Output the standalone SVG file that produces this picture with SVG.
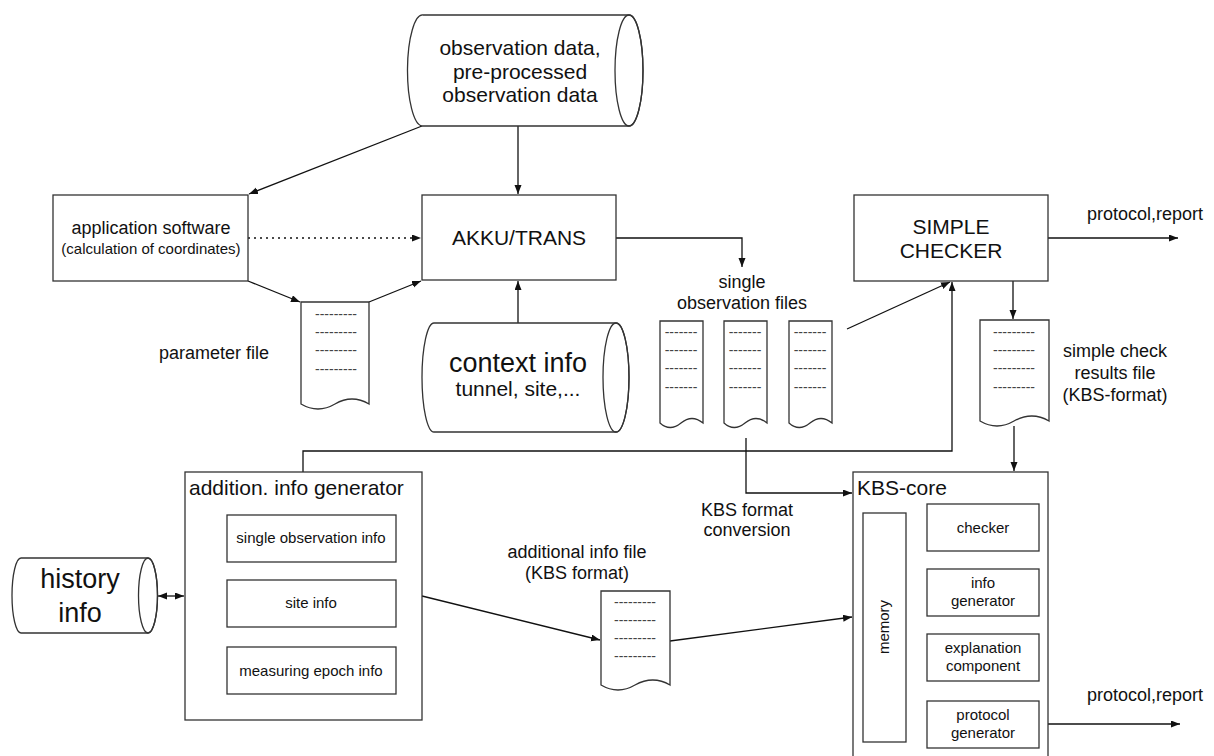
<svg xmlns="http://www.w3.org/2000/svg" width="1214" height="756" viewBox="0 0 1214 756">
<style>
  text { font-family: "Liberation Sans", Arial, sans-serif; fill: #111; }
  .box { fill: #fff; stroke: #333; stroke-width: 1.3; }
  .ln { fill: none; stroke: #111; stroke-width: 1.3; }
  .dash { font-size: 14px; fill: #444; text-anchor: middle; }
  .c { text-anchor: middle; }
  .s15 { font-size: 15px; }
  .s18 { font-size: 18px; }
  .s21 { font-size: 21px; }
  .s27 { font-size: 27px; }
</style>
<defs>
  <marker id="ah" markerUnits="userSpaceOnUse" markerWidth="10" markerHeight="8" refX="9" refY="3.5" orient="auto-start-reverse">
    <path d="M0,0 L9,3.5 L0,7 z" fill="#111"/>
  </marker>
</defs>
<rect width="1214" height="756" fill="#fff"/>

<g id="connectors">
  <path class="ln" d="M422,126 L249,194" marker-end="url(#ah)"/>
  <path class="ln" d="M518,126 L518,194" marker-end="url(#ah)"/>
  <path class="ln" d="M248,238 L421,238" stroke-dasharray="2 4" marker-end="url(#ah)"/>
  <path class="ln" d="M248,281 L300,302" marker-end="url(#ah)"/>
  <path class="ln" d="M369,302 L421,281" marker-end="url(#ah)"/>
  <path class="ln" d="M518,323 L518,281" marker-end="url(#ah)"/>
  <path class="ln" d="M616,238 L742,238 L742,267" marker-end="url(#ah)"/>
  <path class="ln" d="M847,329 L950,282" marker-end="url(#ah)"/>
  <path class="ln" d="M303,472 L303,451 L952,451 L952,282" marker-end="url(#ah)"/>
  <path class="ln" d="M1013,281 L1013,319" marker-end="url(#ah)"/>
  <path class="ln" d="M1014,426 L1014,471" marker-end="url(#ah)"/>
  <path class="ln" d="M746,438 L746,493 L852,493" marker-end="url(#ah)"/>
  <path class="ln" d="M1048,238 L1178,238" marker-end="url(#ah)"/>
  <path class="ln" d="M422,596 L600,640" marker-end="url(#ah)"/>
  <path class="ln" d="M670,641 L852,617" marker-end="url(#ah)"/>
  <path class="ln" d="M1039,724 L1180,724" marker-end="url(#ah)"/>
  <path class="ln" d="M906,528 L926,528" marker-start="url(#ah)" marker-end="url(#ah)"/>
  <path class="ln" d="M906,593 L926,593" marker-start="url(#ah)" marker-end="url(#ah)"/>
  <path class="ln" d="M906,657 L926,657" marker-start="url(#ah)" marker-end="url(#ah)"/>
  <path class="ln" d="M906,724 L926,724" marker-start="url(#ah)" marker-end="url(#ah)"/>
  <path class="ln" d="M158,596 L184,596" marker-start="url(#ah)" marker-end="url(#ah)"/>
</g>

<g id="observation-data">
  <path class="box" d="M423,15 L629,15 A14,55.5 0 0 1 629,126 L422,126 A15,55.5 0 0 1 423,15 Z"/>
  <ellipse cx="629" cy="70.5" rx="14" ry="55.5" fill="none" stroke="#333" stroke-width="1.3"/>
  <text class="c s21" x="520" y="55">observation data,</text>
  <text class="c s21" x="520" y="79">pre-processed</text>
  <text class="c s21" x="520" y="102">observation data</text>
</g>

<g id="application-software">
  <rect class="box" x="53" y="195" width="195" height="86"/>
  <text class="c s18" x="151" y="234">application software</text>
  <text class="c s15" x="151" y="254">(calculation of coordinates)</text>
</g>

<g id="akku-trans">
  <rect class="box" x="422" y="195" width="194" height="85"/>
  <text class="c s21" x="519" y="245">AKKU/TRANS</text>
</g>

<g id="parameter-file">
  <path class="box" d="M301,302 L369,302 L369,404 Q352,394 335,404 Q318,414 301,404 Z"/>
  <text class="dash" x="336" y="319">---------</text>
  <text class="dash" x="336" y="337">---------</text>
  <text class="dash" x="336" y="355">---------</text>
  <text class="dash" x="336" y="374">---------</text>
  <text class="c s18" x="214" y="359">parameter file</text>
</g>

<g id="context-info">
  <path class="box" d="M434,323 L616,323 A13,54.5 0 0 1 616,432 L434,432 A12,54.5 0 0 1 434,323 Z"/>
  <ellipse cx="616" cy="377.5" rx="13" ry="54.5" fill="none" stroke="#333" stroke-width="1.3"/>
  <text class="c s27" x="518" y="372">context info</text>
  <text class="c s21" x="518" y="396">tunnel, site,...</text>
</g>

<g id="single-observation-files">
  <text class="c s18" x="742" y="288">single</text>
  <text class="c s18" x="742" y="309">observation files</text>
  <path class="box" d="M660,321 L703,321 L703,423 Q692,414 681,423 Q670,432 660,423 Z"/>
  <path class="box" d="M724,321 L767,321 L767,423 Q756,414 745,423 Q734,432 724,423 Z"/>
  <path class="box" d="M789,321 L832,321 L832,423 Q821,414 810,423 Q799,432 789,423 Z"/>
  <text class="dash" x="681" y="337">-------</text>
  <text class="dash" x="681" y="355">-------</text>
  <text class="dash" x="681" y="373">-------</text>
  <text class="dash" x="681" y="392">-------</text>
  <text class="dash" x="745" y="337">-------</text>
  <text class="dash" x="745" y="355">-------</text>
  <text class="dash" x="745" y="373">-------</text>
  <text class="dash" x="745" y="392">-------</text>
  <text class="dash" x="810" y="337">-------</text>
  <text class="dash" x="810" y="355">-------</text>
  <text class="dash" x="810" y="373">-------</text>
  <text class="dash" x="810" y="392">-------</text>
</g>

<g id="simple-checker">
  <rect class="box" x="854" y="195" width="194" height="86"/>
  <text class="c s21" x="951" y="234">SIMPLE</text>
  <text class="c s21" x="951" y="258">CHECKER</text>
</g>

<g id="protocol-report-1">
  <text class="c s18" x="1145" y="220">protocol,report</text>
</g>

<g id="simple-check-results-file">
  <path class="box" d="M980,320 L1049,320 L1049,421 Q1032,411 1014,421 Q997,431 980,421 Z"/>
  <text class="dash" x="1014" y="337">---------</text>
  <text class="dash" x="1014" y="355">---------</text>
  <text class="dash" x="1014" y="373">---------</text>
  <text class="dash" x="1014" y="392">---------</text>
  <text class="c s18" x="1115" y="357">simple check</text>
  <text class="c s18" x="1115" y="379">results file</text>
  <text class="c s18" x="1115" y="401">(KBS-format)</text>
</g>

<g id="history-info">
  <path class="box" d="M21,558 L148,558 A9.5,37.5 0 0 1 148,633 L21,633 A9,37.5 0 0 1 21,558 Z"/>
  <ellipse cx="148" cy="595.5" rx="9.5" ry="37.5" fill="none" stroke="#333" stroke-width="1.3"/>
  <text class="c s27" x="80" y="588">history</text>
  <text class="c s27" x="80" y="622">info</text>
</g>

<g id="addition-info-generator">
  <rect class="box" x="185" y="472" width="237" height="248"/>
  <text class="s21" x="189" y="495">addition. info generator</text>
  <rect class="box" x="227" y="515" width="169" height="47"/>
  <text class="c s15" x="311" y="543">single observation info</text>
  <rect class="box" x="227" y="580" width="169" height="47"/>
  <text class="c s15" x="311" y="608">site info</text>
  <rect class="box" x="227" y="647" width="169" height="47"/>
  <text class="c s15" x="311" y="676">measuring epoch info</text>
</g>

<g id="additional-info-file">
  <text class="c s18" x="577" y="558">additional info file</text>
  <text class="c s18" x="577" y="579">(KBS format)</text>
  <path class="box" d="M601,591 L670,591 L670,685 Q653,675 635,685 Q618,695 601,685 Z"/>
  <text class="dash" x="635" y="607">---------</text>
  <text class="dash" x="635" y="625">---------</text>
  <text class="dash" x="635" y="643">---------</text>
  <text class="dash" x="635" y="661">---------</text>
</g>

<g id="kbs-format-conversion">
  <text class="c s18" x="747" y="516">KBS format</text>
  <text class="c s18" x="747" y="536">conversion</text>
</g>

<g id="kbs-core">
  <rect class="box" x="853" y="472" width="195" height="300"/>
  <text class="s21" x="857" y="495">KBS-core</text>
  <rect class="box" x="863" y="513" width="43" height="229"/>
  <text class="c s15" transform="translate(889,627) rotate(-90)" x="0" y="0">memory</text>
  <rect class="box" x="927" y="504" width="112" height="47"/>
  <text class="c s15" x="983" y="533">checker</text>
  <rect class="box" x="927" y="569" width="112" height="47"/>
  <text class="c s15" x="983" y="588">info</text>
  <text class="c s15" x="983" y="606">generator</text>
  <rect class="box" x="927" y="634" width="112" height="47"/>
  <text class="c s15" x="983" y="653">explanation</text>
  <text class="c s15" x="983" y="671">component</text>
  <rect class="box" x="927" y="701" width="112" height="47"/>
  <text class="c s15" x="983" y="720">protocol</text>
  <text class="c s15" x="983" y="738">generator</text>
</g>

<g id="protocol-report-2">
  <text class="c s18" x="1145" y="701">protocol,report</text>
</g>
</svg>
